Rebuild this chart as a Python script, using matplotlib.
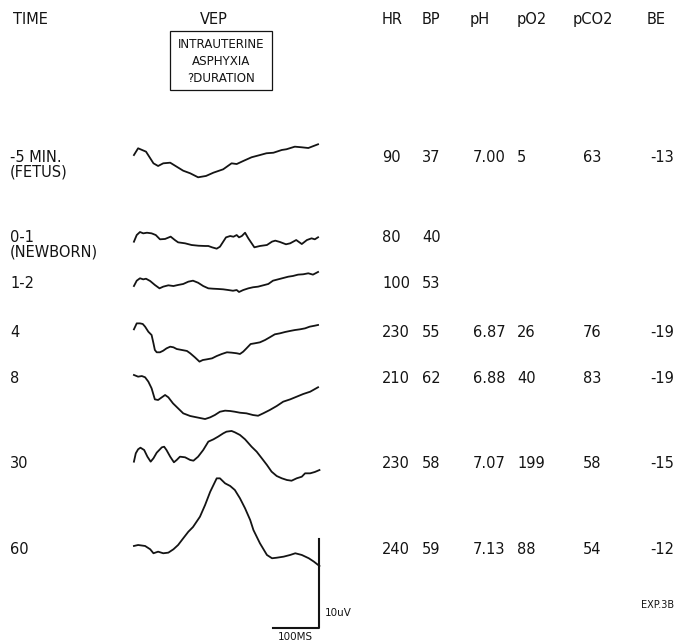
import matplotlib
matplotlib.use("Agg")
import matplotlib.pyplot as plt
from matplotlib.patches import Rectangle

# ---- physiological table --------------------------------------------------
time_labels = ["-5 MIN.", "0-1", "1-2", "4", "8", "30", "60"]
time_notes = ["(FETUS)", "(NEWBORN)", "", "", "", "", ""]
hr = [90, 80, 100, 230, 210, 230, 240]
bp = [37, 40, 53, 55, 62, 58, 59]
ph = [7.00, None, None, 6.87, 6.88, 7.07, 7.13]
po2 = [5, None, None, 26, 40, 199, 88]
pco2 = [63, None, None, 76, 83, 58, 54]
be = [-13, None, None, -19, -19, -15, -12]
columns = ["HR", "BP", "pH", "pO2", "pCO2", "BE"]

# ---- VEP traces: latency (ms) and amplitude (uV, relative to row level) ----
fetus_ms = [2, 11, 28, 44, 54, 65, 80, 94, 108, 123, 140, 157, 173, 194, 212,
            223, 237, 255, 273, 287, 302, 320, 330, 348, 363, 377, 398]
fetus_uv = [0.22, 0.98, 0.60, -0.71, -1.01, -0.71, -0.64, -1.09, -1.54, -1.83,
            -2.28, -2.13, -1.76, -1.38, -0.71, -0.79, -0.45, -0.03, 0.22, 0.42,
            0.48, 0.79, 0.87, 1.16, 1.09, 1.01, 1.43]

nb01_ms = [2, 8, 15, 22, 30, 40, 49, 58, 69, 81, 90, 97, 112, 126, 141, 155,
           162, 170, 180, 187, 200, 209, 216, 223, 228, 234, 241, 248, 261,
           273, 288, 299, 306, 316, 329, 338, 351, 363, 374, 384, 391, 398]
nb01_uv = [-0.53, 0.22, 0.56, 0.41, 0.48, 0.41, 0.22, -0.26, -0.22, 0.04,
           -0.34, -0.60, -0.71, -0.90, -0.98, -1.01, -1.01, -1.16, -1.31,
           -1.09, -0.04, 0.11, 0.03, 0.22, -0.04, 0.11, 0.48, -0.15, -1.16,
           -1.01, -0.90, -0.52, -0.41, -0.56, -0.82, -0.71, -0.34, -0.79,
           -0.34, -0.15, -0.26, -0.03]

nb12_ms = [2, 8, 15, 22, 28, 37, 47, 57, 65, 76, 87, 97, 108, 119, 129, 140,
           151, 162, 172, 183, 194, 205, 215, 223, 228, 237, 248, 258, 269,
           280, 291, 301, 312, 323, 334, 344, 355, 366, 377, 387, 398]
nb12_uv = [-0.34, 0.26, 0.53, 0.41, 0.48, 0.22, -0.22, -0.60, -0.41, -0.26,
           -0.34, -0.22, -0.11, 0.15, 0.26, 0.03, -0.34, -0.60, -0.64, -0.67,
           -0.71, -0.79, -0.87, -0.79, -1.01, -0.79, -0.60, -0.48, -0.41,
           -0.26, -0.11, 0.26, 0.41, 0.56, 0.71, 0.79, 0.94, 0.98, 1.09, 0.94,
           1.24]

m4_ms = [2, 8, 15, 21, 26, 33, 40, 44, 47, 51, 58, 65, 72, 80, 87, 94, 105,
         116, 123, 133, 143, 150, 159, 170, 180, 191, 202, 212, 223, 230, 237,
         244, 253, 262, 273, 284, 294, 305, 316, 327, 337, 348, 359, 370, 380,
         391, 398]
m4_uv = [0.30, 0.97, 0.97, 0.90, 0.60, 0.03, -0.34, -1.27, -2.02, -2.28,
         -2.28, -2.10, -1.84, -1.65, -1.72, -1.91, -2.02, -2.13, -2.39, -2.84,
         -3.33, -3.15, -3.07, -2.96, -2.70, -2.47, -2.28, -2.32, -2.39, -2.47,
         -2.21, -1.84, -1.35, -1.27, -1.16, -0.90, -0.60, -0.26, -0.15, 0.0,
         0.11, 0.22, 0.30, 0.41, 0.60, 0.71, 0.79]

m8_ms = [2, 11, 19, 26, 33, 40, 47, 54, 62, 69, 76, 86, 97, 108, 123, 137,
         155, 166, 176, 187, 198, 209, 219, 230, 244, 258, 269, 280, 294, 309,
         323, 338, 352, 366, 381, 398]
m8_uv = [0.34, 0.15, 0.22, 0.08, -0.41, -1.16, -2.40, -2.47, -2.17, -1.91,
         -2.17, -2.85, -3.41, -3.97, -4.27, -4.42, -4.61, -4.42, -4.16, -3.79,
         -3.67, -3.71, -3.79, -3.90, -3.97, -4.16, -4.24, -3.97, -3.60, -3.15,
         -2.66, -2.40, -2.10, -1.80, -1.54, -1.04]

m30_ms = [2, 6, 11, 16, 24, 31, 38, 44, 51, 62, 67, 72, 80, 88, 94, 101, 112,
          123, 130, 140, 151, 162, 173, 183, 194, 201, 212, 219, 230, 241, 255,
          266, 277, 288, 298, 309, 320, 331, 341, 352, 363, 370, 381, 391, 401]
m30_uv = [0.15, 1.09, 1.54, 1.72, 1.46, 0.71, 0.15, 0.53, 1.16, 1.76, 1.83,
          1.46, 0.71, 0.08, 0.34, 0.71, 0.64, 0.34, 0.26, 0.71, 1.46, 2.40,
          2.66, 2.96, 3.33, 3.52, 3.60, 3.45, 3.15, 2.66, 1.83, 1.27, 0.53,
          -0.22, -0.97, -1.46, -1.72, -1.91, -1.99, -1.72, -1.54, -1.16, -1.16,
          -1.01, -0.79]

m60_ms = [2, 11, 26, 37, 44, 54, 65, 76, 87, 97, 108, 119, 129, 144, 155, 166,
          180, 187, 198, 209, 219, 230, 241, 252, 259, 273, 288, 299, 309, 324,
          338, 349, 363, 378, 389, 401]
m60_uv = [0.34, 0.45, 0.34, -0.03, -0.48, -0.30, -0.48, -0.41, -0.03, 0.45,
          1.20, 1.94, 2.47, 3.63, 4.94, 6.43, 7.94, 7.94, 7.38, 7.08, 6.63,
          5.70, 4.57, 3.26, 2.13, 0.64, -0.67, -1.04, -0.98, -0.86, -0.67,
          -0.48, -0.67, -1.04, -1.42, -1.91]

traces = [(fetus_ms, fetus_uv), (nb01_ms, nb01_uv), (nb12_ms, nb12_uv),
          (m4_ms, m4_uv), (m8_ms, m8_uv), (m30_ms, m30_uv), (m60_ms, m60_uv)]

# calibration
cal_ms = 100
cal_uv = 10

# ---- layout (page pixels) ----------------------------------------------
W, H = 683, 644
row_y = [157, 237, 283, 332, 378, 463, 549]
col_x = [382, 422, 473, 517, 583, 650]      # value columns
head_x = [382, 422, 470, 517, 573, 647]     # header columns
X0 = 133            # sweep start
PX_PER_MS = 0.465
PX_PER_UV = 8.9
INK = "#141414"
FS = 10.5

fig = plt.figure(figsize=(W / 100, H / 100), dpi=100)
ax = fig.add_axes([0, 0, 1, 1])
ax.set_xlim(0, W)
ax.set_ylim(H, 0)
ax.axis("off")


def txt(x, y, s, size=FS, ha="left"):
    ax.text(x, y, s, fontsize=size, ha=ha, va="center", color=INK,
            family="DejaVu Sans")


# headers
txt(13, 19, "TIME")
txt(214, 19, "VEP", ha="center")
for x, name in zip(head_x, columns):
    txt(x, 19, name)

# boxed note under VEP
ax.add_patch(Rectangle((170, 31), 102, 59, fill=False, lw=0.9,
                       edgecolor=INK))
for y, s in zip([44, 61, 78], ["INTRAUTERINE", "ASPHYXIA", "?DURATION"]):
    txt(221, y, s, size=8.6, ha="center")

# rows
for i, y in enumerate(row_y):
    txt(10, y, time_labels[i])
    if time_notes[i]:
        txt(10, y + 15, time_notes[i])
    vals = [hr[i], bp[i], ph[i], po2[i], pco2[i], be[i]]
    for j, (x, v) in enumerate(zip(col_x, vals)):
        if v is None:
            continue
        s = "{:.2f}".format(v) if j == 2 else str(v)
        txt(x, y, s)

    t, a = traces[i]
    xs = [X0 + tt * PX_PER_MS for tt in t]
    ys = [y - aa * PX_PER_UV for aa in a]
    ax.plot(xs, ys, color=INK, lw=1.3, solid_joinstyle="round")

# calibration bars at the end of the sweep
cx = X0 + 400 * PX_PER_MS
cy = 628
ax.plot([cx - cal_ms * PX_PER_MS, cx, cx],
        [cy, cy, cy - cal_uv * PX_PER_UV], color=INK, lw=1.5)
txt(cx + 6, 613, "10uV", size=7.5)
txt(cx - cal_ms * PX_PER_MS / 2, 637, "100MS", size=7.5, ha="center")

txt(641, 605, "EXP.3B", size=7)

fig.savefig("out.png", dpi=100, facecolor="white")
